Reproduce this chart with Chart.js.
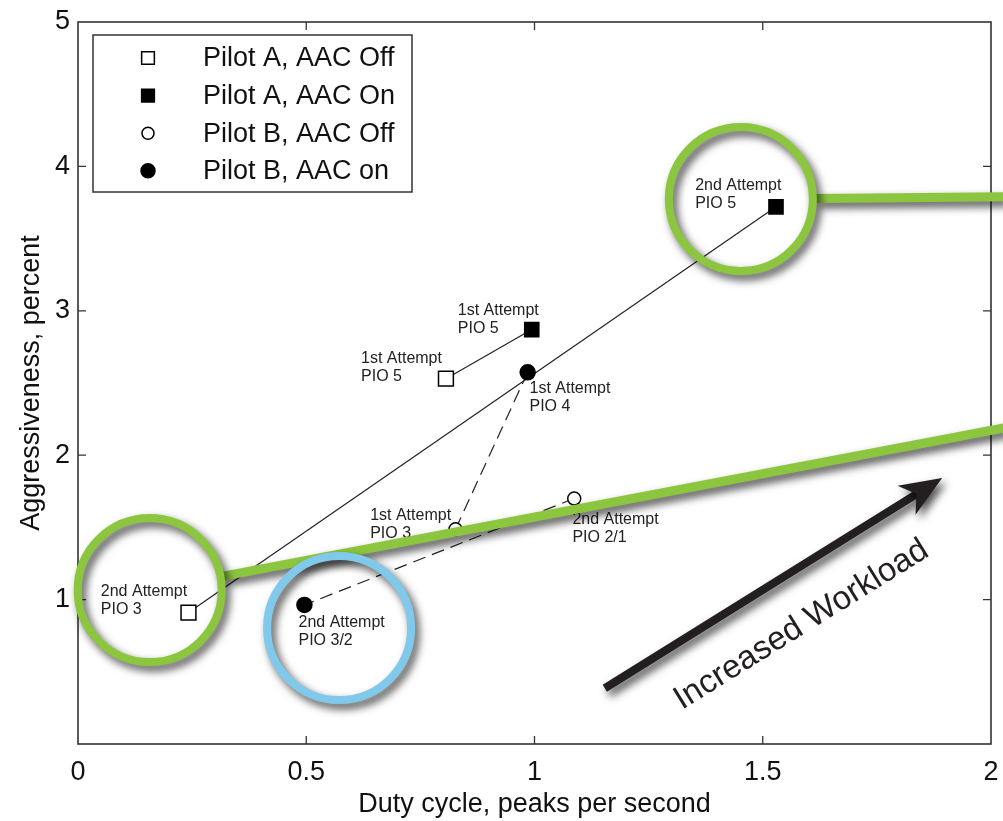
<!DOCTYPE html>
<html>
<head>
<meta charset="utf-8">
<script src="https://cdn.jsdelivr.net/npm/chart.js@4.4.1/dist/chart.umd.min.js"></script>
<style>
  html, body { margin: 0; padding: 0; background: #fff; }
  #wrap { width: 1003px; height: 821px; position: relative; }
</style>
</head>
<body>
<div id="wrap"><canvas id="c"></canvas></div>
<script>
// Valori: duty cycle (peaks/s) vs aggressiveness (%)
// index 0 = 1st attempt, index 1 = 2nd attempt
const pilotAOffX = [0.806, 0.242];
const pilotAOffY = [2.53, 0.91];
const pilotAOnX = [0.994, 1.529];
const pilotAOnY = [2.87, 3.72];
const pilotBOffX = [0.827, 1.087];
const pilotBOffY = [1.487, 1.70];
const pilotBOnX = [0.985, 0.496];
const pilotBOnY = [2.574, 0.963];

const xTicks = [0, 0.5, 1, 1.5, 2];
const yTicks = [0, 1, 2, 3, 4, 5];

// Etichetele de langa puncte (coordonate in unitati de date, colt stanga)
const noteX = [1.352, 0.832, 0.620, 0.989, 0.640, 1.083, 0.050, 0.483];
const noteY = [3.864, 2.999, 2.666, 2.458, 1.579, 1.551, 1.053, 0.838];
const noteText = [
    ['2nd Attempt', 'PIO 5'],
    ['1st Attempt', 'PIO 5'],
    ['1st Attempt', 'PIO 5'],
    ['1st Attempt', 'PIO 4'],
    ['1st Attempt', 'PIO 3'],
    ['2nd Attempt', 'PIO 2/1'],
    ['2nd Attempt', 'PIO 3'],
    ['2nd Attempt', 'PIO 3/2'],
];

// Cercurile de evidentiere (verde / albastru) si bara verde catre marginea dreapta
const ringX = [1.452, 0.157, 0.572];
const ringY = [3.774, 1.066, 0.803];
const ringColor = ['#8cc63f', '#8cc63f', '#80c9ea'];
const ringTailX = [2.03, 2.03, null];
const ringTailY = [3.79, 2.19, null];

// Sageata "Increased Workload"
const arrowFrom = [1.154, 0.386];
const arrowTo = [1.893, 1.842];
const arrowLabelAt = [1.585, 0.825];

const pts = (xs, ys) => xs.map((x, i) => ({ x: x, y: ys[i] }));
const pair = (ax, ay, bx, by, i) => [{ x: ax[i], y: ay[i] }, { x: bx[i], y: by[i] }];

const SANS = '"Liberation Sans", Arial, sans-serif';

const markerSets = [
    { label: 'Pilot A, AAC Off', data: pts(pilotAOffX, pilotAOffY), pointStyle: 'rect', pointRadius: 10.5, pointBackgroundColor: '#fff', lg: 9 },
    { label: 'Pilot A, AAC On', data: pts(pilotAOnX, pilotAOnY), pointStyle: 'rect', pointRadius: 10, pointBackgroundColor: '#000', lg: 9 },
    { label: 'Pilot B, AAC Off', data: pts(pilotBOffX, pilotBOffY), pointStyle: 'circle', pointRadius: 6.5, pointBackgroundColor: '#fff', lg: 6 },
    { label: 'Pilot B, AAC on', data: pts(pilotBOnX, pilotBOnY), pointStyle: 'circle', pointRadius: 7.5, pointBackgroundColor: '#000', lg: 7 },
];

const linkSets = [
    { data: pair(pilotAOffX, pilotAOffY, pilotAOnX, pilotAOnY, 0), dash: [] },
    { data: pair(pilotAOffX, pilotAOffY, pilotAOnX, pilotAOnY, 1), dash: [] },
    { data: pair(pilotBOffX, pilotBOffY, pilotBOnX, pilotBOnY, 0), dash: [13, 7] },
    { data: pair(pilotBOffX, pilotBOffY, pilotBOnX, pilotBOnY, 1), dash: [13, 7] },
];

const datasets = [];
markerSets.forEach((m) => {
    datasets.push({
        label: m.label,
        data: m.data,
        showLine: false,
        pointStyle: m.pointStyle,
        pointRadius: m.pointRadius,
        pointHoverRadius: m.pointRadius,
        pointBackgroundColor: m.pointBackgroundColor,
        pointBorderColor: '#000',
        pointBorderWidth: 1.5,
        order: 1,
        legendRadius: m.lg,
    });
});
linkSets.forEach((l) => {
    datasets.push({
        label: '',
        isLink: true,
        data: l.data,
        showLine: true,
        borderColor: '#222',
        borderWidth: 1.2,
        borderDash: l.dash,
        pointRadius: 0,
        order: 2,
    });
});

// Rama + tick-uri spre interior pe toate cele 4 laturi
const framePlugin = {
    id: 'frame',
    beforeDatasetsDraw(chart) {
        const { ctx, chartArea: a, scales } = chart;
        ctx.save();
        ctx.strokeStyle = '#333';
        ctx.lineWidth = 1.6;
        ctx.strokeRect(a.left, a.top, a.right - a.left, a.bottom - a.top);
        ctx.lineWidth = 1.3;
        const tl = 8;
        xTicks.slice(1, -1).forEach((v) => {
            const px = scales.x.getPixelForValue(v);
            ctx.beginPath();
            ctx.moveTo(px, a.bottom); ctx.lineTo(px, a.bottom - tl);
            ctx.moveTo(px, a.top); ctx.lineTo(px, a.top + tl);
            ctx.stroke();
        });
        yTicks.slice(1, -1).forEach((v) => {
            const py = scales.y.getPixelForValue(v);
            ctx.beginPath();
            ctx.moveTo(a.left, py); ctx.lineTo(a.left + tl, py);
            ctx.moveTo(a.right, py); ctx.lineTo(a.right - tl, py);
            ctx.stroke();
        });
        ctx.restore();
    },
};

// Etichete text langa puncte
const notesPlugin = {
    id: 'notes',
    afterDatasetsDraw(chart) {
        const { ctx, scales } = chart;
        ctx.save();
        ctx.font = '16px ' + SANS;
        ctx.fillStyle = '#222';
        ctx.textAlign = 'left';
        ctx.textBaseline = 'middle';
        noteText.forEach((lines, i) => {
            const px = scales.x.getPixelForValue(noteX[i]);
            const py = scales.y.getPixelForValue(noteY[i]);
            lines.forEach((t, k) => ctx.fillText(t, px, py + k * 17.5));
        });
        ctx.restore();
    },
};

// Legenda in chenar, desenata manual
const legendPlugin = {
    id: 'boxLegend',
    afterDraw(chart) {
        const { ctx, chartArea: a } = chart;
        const bx = a.left + 15, by = a.top + 13, bw = 319, bh = 157;
        ctx.save();
        ctx.fillStyle = '#fff';
        ctx.fillRect(bx, by, bw, bh);
        ctx.strokeStyle = '#333';
        ctx.lineWidth = 1.5;
        ctx.strokeRect(bx, by, bw, bh);
        ctx.font = '27px ' + SANS;
        ctx.textBaseline = 'middle';
        chart.data.datasets.filter((d) => !d.isLink).forEach((d, i) => {
            const cy = by + 23 + i * 37.6;
            ctx.fillStyle = d.pointBackgroundColor;
            ctx.strokeStyle = '#000';
            ctx.lineWidth = 1.5;
            Chart.helpers.drawPoint(ctx, {
                pointStyle: d.pointStyle, radius: d.legendRadius, rotation: 0, borderWidth: 1.5,
            }, bx + 55, cy);
            ctx.fillStyle = '#111';
            ctx.fillText(d.label, bx + 110, cy + 1);
        });
        ctx.restore();
    },
};

// Cercuri, bare si sageata suprapuse peste grafic (cu umbra)
const overlayPlugin = {
    id: 'overlay',
    afterDraw(chart) {
        const { ctx, scales } = chart;
        const X = (v) => scales.x.getPixelForValue(v);
        const Y = (v) => scales.y.getPixelForValue(v);
        const R = 72;
        ctx.save();
        ctx.shadowColor = 'rgba(0,0,0,0.7)';
        ctx.shadowBlur = 9;
        ctx.shadowOffsetX = 4;
        ctx.shadowOffsetY = 5;
        ctx.lineCap = 'butt';

        ringX.forEach((cxv, i) => {
            const cx = X(cxv), cy = Y(ringY[i]);
            ctx.strokeStyle = ringColor[i];
            if (ringTailX[i] !== null) {
                const tx = X(ringTailX[i]), ty = Y(ringTailY[i]);
                const len = Math.hypot(tx - cx, ty - cy);
                const ux = (tx - cx) / len, uy = (ty - cy) / len;
                ctx.lineWidth = 9;
                ctx.beginPath();
                ctx.moveTo(cx + ux * (R + 3), cy + uy * (R + 3));
                ctx.lineTo(tx, ty);
                ctx.stroke();
            }
            ctx.lineWidth = 8;
            ctx.beginPath();
            ctx.arc(cx, cy, R, 0, Math.PI * 2);
            ctx.stroke();
        });

        // sageata
        const x0 = X(arrowFrom[0]), y0 = Y(arrowFrom[1]);
        const x1 = X(arrowTo[0]), y1 = Y(arrowTo[1]);
        const len = Math.hypot(x1 - x0, y1 - y0);
        const ux = (x1 - x0) / len, uy = (y1 - y0) / len;
        const nx = -uy, ny = ux;
        const L = 42, W = 17;
        ctx.strokeStyle = '#231f20';
        ctx.fillStyle = '#231f20';
        ctx.lineWidth = 8;
        ctx.beginPath();
        ctx.moveTo(x0, y0);
        ctx.lineTo(x1 - ux * L * 0.7, y1 - uy * L * 0.7);
        ctx.stroke();
        ctx.beginPath();
        ctx.moveTo(x1, y1);
        ctx.lineTo(x1 - ux * L + nx * W, y1 - uy * L + ny * W);
        ctx.lineTo(x1 - ux * L * 0.72, y1 - uy * L * 0.72);
        ctx.lineTo(x1 - ux * L - nx * W, y1 - uy * L - ny * W);
        ctx.closePath();
        ctx.fill();

        // text rotit
        ctx.shadowColor = 'transparent';
        ctx.translate(X(arrowLabelAt[0]), Y(arrowLabelAt[1]));
        ctx.rotate(Math.atan2(y1 - y0, x1 - x0));
        ctx.font = '33px ' + SANS;
        ctx.fillStyle = '#231f20';
        ctx.textAlign = 'center';
        ctx.textBaseline = 'middle';
        ctx.fillText('Increased Workload', 0, 0);
        ctx.restore();
    },
};

new Chart(document.getElementById('c'), {
    type: 'scatter',
    data: { datasets: datasets },
    options: {
        responsive: true,
        maintainAspectRatio: false,
        animation: false,
        events: [],
        layout: { padding: { top: 22, right: 8, left: 0, bottom: 0 } },
        plugins: {
            legend: { display: false },
            tooltip: { enabled: false },
        },
        scales: {
            x: {
                type: 'linear',
                min: 0,
                max: 2,
                grid: { display: false, drawTicks: false },
                border: { display: false },
                afterBuildTicks: (s) => { s.ticks = xTicks.map((v) => ({ value: v })); },
                afterFit: (s) => { s.height = 77; s.paddingLeft = 0; s.paddingRight = 0; },
                ticks: {
                    padding: 12,
                    color: '#111',
                    font: { family: SANS, size: 27 },
                    callback: (v) => String(v),
                    maxRotation: 0,
                    autoSkip: false,
                },
                title: {
                    display: true,
                    text: 'Duty cycle, peaks per second',
                    color: '#111',
                    font: { family: SANS, size: 27 },
                    padding: { top: 0, bottom: 0 },
                },
            },
            y: {
                type: 'linear',
                min: 0,
                max: 5,
                grid: { display: false, drawTicks: false },
                border: { display: false },
                afterBuildTicks: (s) => { s.ticks = yTicks.map((v) => ({ value: v })); },
                afterFit: (s) => { s.width = 78; s.paddingTop = 0; s.paddingBottom = 0; },
                ticks: {
                    padding: 8,
                    color: '#111',
                    font: { family: SANS, size: 27 },
                    callback: (v) => (v === 0 ? '' : String(v)),
                },
                title: {
                    display: true,
                    text: 'Aggressiveness, percent',
                    color: '#111',
                    font: { family: SANS, size: 27 },
                    padding: { top: 15, bottom: 0 },
                },
            },
        },
    },
    plugins: [framePlugin, notesPlugin, legendPlugin, overlayPlugin],
});
</script>
</body>
</html>
